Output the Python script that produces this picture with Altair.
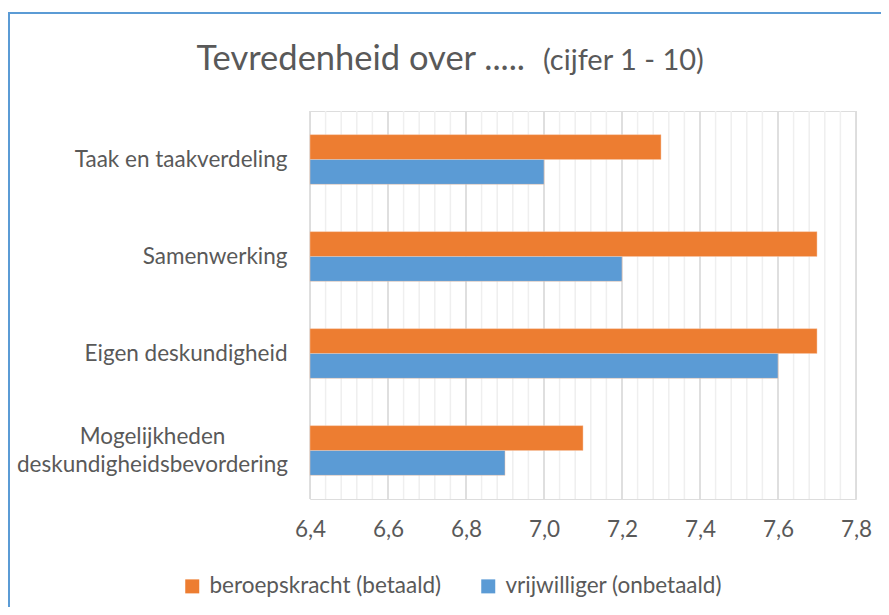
import altair as alt
import pandas as pd

categories = ["Taak en taakverdeling", "Samenwerking", "Eigen deskundigheid",
              "Mogelijkheden deskundigheidsbevordering"]
series = ["beroepskracht (betaald)", "vrijwilliger (onbetaald)"]
beroeps = [7.3, 7.7, 7.7, 7.1]
vrijw = [7.0, 7.2, 7.6, 6.9]
colors = ["#ED7D31", "#5B9BD5"]
x_min, x_max = 6.4, 7.8
major_ticks = [6.4, 6.6, 6.8, 7.0, 7.2, 7.4, 7.6, 7.8]
minor_ticks = [round(6.4 + 0.04 * i, 2) for i in range(36)]
title_main = "Tevredenheid over ....."
title_sub = "(cijfer 1 - 10)"

rows = []
for c, b, v in zip(categories, beroeps, vrijw):
    rows.append({"cat": c, "serie": series[0], "val": b, "base": x_min})
    rows.append({"cat": c, "serie": series[1], "val": v, "base": x_min})
df = pd.DataFrame(rows)

FONT = "Lato"
TXT = "#595959"
FS = 22.5
W, H = 546, 388

xscale = alt.Scale(domain=[x_min, x_max], nice=False, zero=False)
xaxis = alt.Axis(values=major_ticks, domain=False, ticks=False, grid=False,
                 labelFont=FONT, labelFontSize=FS, labelColor=TXT,
                 labelPadding=19, labelFlush=False,
                 labelExpr="replace(format(datum.value, '.1f'), '.', ',')")

minor = alt.Chart(pd.DataFrame({"t": minor_ticks})).mark_rule(
    color="#efefef", strokeWidth=1.5
).encode(x=alt.X("t:Q", scale=xscale, axis=xaxis, title=None))

major = alt.Chart(pd.DataFrame({"t": major_ticks})).mark_rule(
    color="#d9d9d9", strokeWidth=1.5
).encode(x=alt.X("t:Q", scale=xscale, axis=xaxis, title=None))

multi = "datum.value == 'Mogelijkheden deskundigheidsbevordering'"

bars = alt.Chart(df).mark_bar(stroke="#f6c7a8", strokeWidth=0.5).encode(
    y=alt.Y("cat:N", sort=categories, title=None,
            scale=alt.Scale(paddingInner=0, paddingOuter=0),
            axis=alt.Axis(
                domain=False, ticks=False, grid=False,
                labelFont=FONT, labelFontSize=FS, labelColor=TXT,
                labelLimit=400, labelLineHeight=28,
                labelExpr="datum.value == 'Mogelijkheden deskundigheidsbevordering' ? ['Mogelijkheden', 'deskundigheidsbevordering'] : datum.value",
                labelAlign={"condition": {"test": multi, "value": "center"}, "value": "right"},
                labelPadding={"condition": {"test": multi, "value": 158}, "value": 23},
                labelOffset={"condition": {"test": multi, "value": -14}, "value": 0},
            )),
    yOffset=alt.YOffset("serie:N", sort=series,
                        scale=alt.Scale(paddingInner=0, paddingOuter=0.95)),
    x=alt.X("val:Q", scale=xscale, title=None, axis=xaxis),
    x2="base:Q",
    color=alt.Color("serie:N", sort=series, title=None,
                    scale=alt.Scale(domain=series, range=colors),
                    legend=alt.Legend(orient="none", direction="horizontal",
                                      legendX=-129, legendY=464,
                                      symbolType="square", symbolSize=196,
                                      symbolStrokeWidth=0, labelFont=FONT,
                                      labelFontSize=FS, labelColor=TXT,
                                      labelOffset=6, columnPadding=35,
                                      labelLimit=400)),
)

one = pd.DataFrame({"a": [1]})
t1 = alt.Chart(one).mark_text(font=FONT, fontSize=34.5, color=TXT, align="right",
                              baseline="alphabetic").encode(
    x=alt.value(215), y=alt.value(-41), text=alt.value(title_main))
t2 = alt.Chart(one).mark_text(font=FONT, fontSize=29, color=TXT, align="left",
                              baseline="alphabetic").encode(
    x=alt.value(233), y=alt.value(-41), text=alt.value(title_sub))

border_top = alt.Chart(one).mark_rule(color="#5B9BD5", strokeWidth=2).encode(
    x=alt.value(-302), x2=alt.value(571), y=alt.value(-98))
border_left = alt.Chart(one).mark_rule(color="#5B9BD5", strokeWidth=2).encode(
    x=alt.value(-301), y=alt.value(-98), y2=alt.value(496))

chart = alt.layer(minor, major, bars, t1, t2, border_top, border_left).properties(
    width=W, height=H,
    autosize=alt.AutoSizeParams(type="none"),
    padding={"left": 302, "top": 103, "right": 25, "bottom": 108},
).configure_view(stroke=None).configure(background="white")

chart.save("out.html", embed_options={"renderer": "svg", "actions": False})
